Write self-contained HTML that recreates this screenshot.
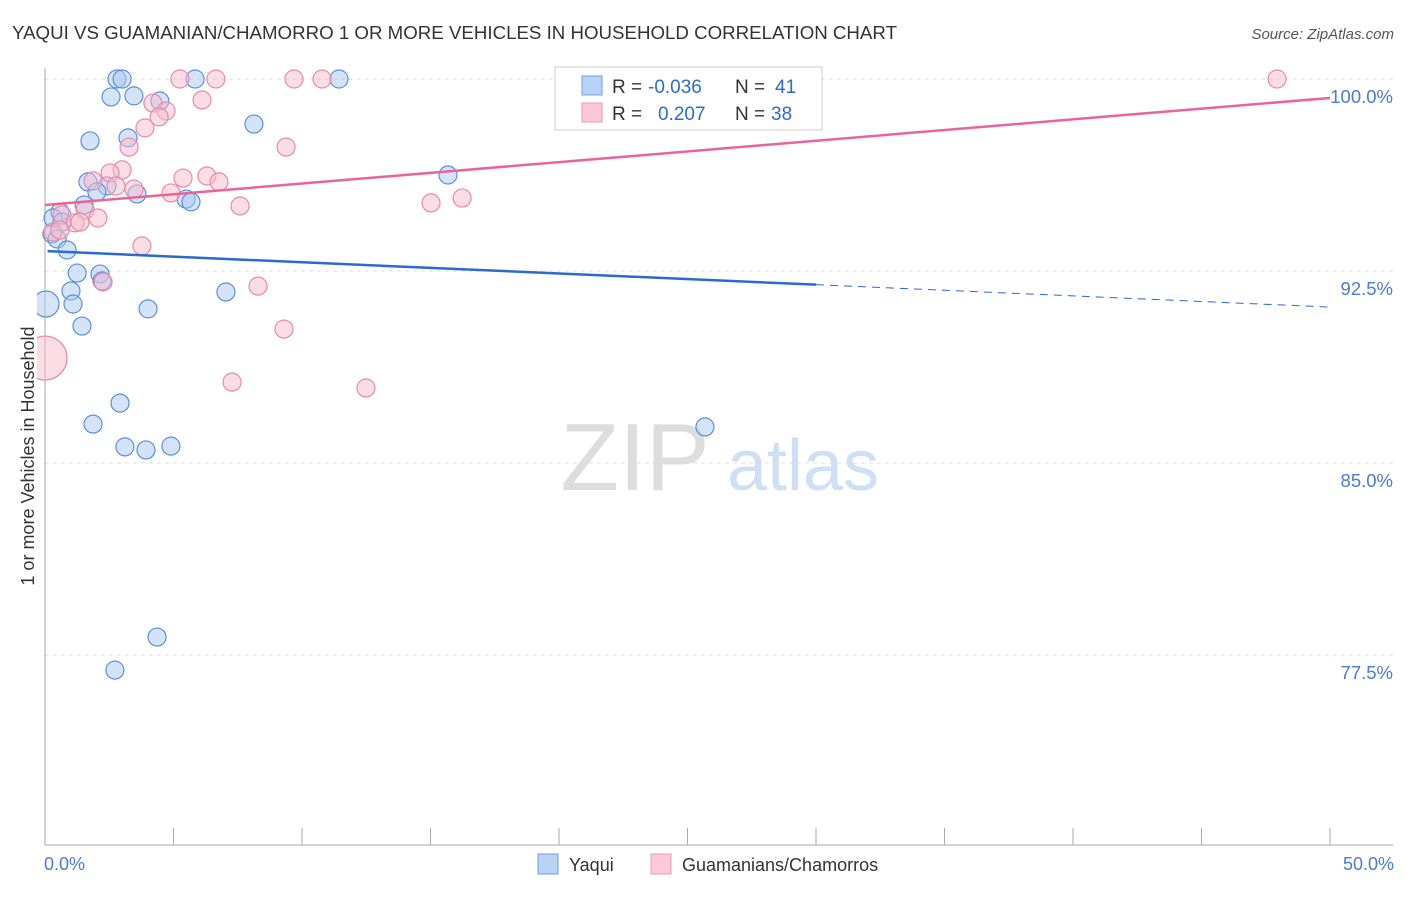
<!DOCTYPE html>
<html><head><meta charset="utf-8"><style>
body{margin:0;background:#fff;font-family:"Liberation Sans",sans-serif;}
svg text{font-family:"Liberation Sans",sans-serif;}
</style></head><body>
<svg width="1406" height="892" xmlns="http://www.w3.org/2000/svg" id="chart">
<defs><clipPath id="plotclip"><rect x="37" y="60" width="1370" height="786"/></clipPath></defs>
<text x="12" y="39" font-size="18" fill="#333" textLength="885" lengthAdjust="spacingAndGlyphs">YAQUI VS GUAMANIAN/CHAMORRO 1 OR MORE VEHICLES IN HOUSEHOLD CORRELATION CHART</text>
<text x="1394" y="39" font-size="15" fill="#555" text-anchor="end" font-style="italic">Source: ZipAtlas.com</text>
<text transform="translate(34,456) rotate(-90)" font-size="18" fill="#333" text-anchor="middle">1 or more Vehicles in Household</text>
<g>
<text x="635" y="490" font-size="96" fill="#ddd" text-anchor="middle" font-family="Liberation Serif">ZIP</text>
<text x="803" y="490" font-size="72" fill="#cfe0f5" text-anchor="middle">atlas</text>
</g>
<g id="grid"></g><g id="ticks"></g><g id="pts" clip-path="url(#plotclip)"></g><g id="lines"></g>
<g>
<rect x="555" y="67" width="267" height="63" fill="#fff" stroke="#ccc"/>
<rect x="582" y="76" width="20" height="19" fill="#b8d3f5" stroke="#6f9fe0"/>
<rect x="582" y="103" width="20" height="19" fill="#fbc9d7" stroke="#ec97b0"/>
<text x="612" y="93" font-size="19" fill="#333">R =</text>
<text x="648" y="93" font-size="19" fill="#2b6ad1">-0.036</text>
<text x="735" y="93" font-size="19" fill="#333">N =</text>
<text x="775" y="93" font-size="19" fill="#2b6ad1">41</text>
<text x="612" y="120" font-size="19" fill="#333">R =</text>
<text x="658" y="120" font-size="19" fill="#2b6ad1">0.207</text>
<text x="735" y="120" font-size="19" fill="#333">N =</text>
<text x="771" y="120" font-size="19" fill="#2b6ad1">38</text>
</g>
<g>
<rect x="538" y="854" width="20" height="20" fill="#b8d3f5" stroke="#6f9fe0"/>
<text x="569" y="871" font-size="18" fill="#333">Yaqui</text>
<rect x="651" y="854" width="20" height="20" fill="#fbc9d7" stroke="#ec97b0"/>
<text x="682" y="871" font-size="18" fill="#333">Guamanians/Chamorros</text>
</g>
<text x="44" y="870" font-size="18" fill="#4a7bd0">0.0%</text>
<text x="1394" y="870" font-size="18" fill="#4a7bd0" text-anchor="end">50.0%</text>
</svg>
<script>
const yTicks=[100,92.5,85,77.5];
const yTickLabels=["100.0%","92.5%","85.0%","77.5%"];
const blueX=[2.8,3.0,5.84,11.44,2.57,3.46,4.47,3.23,1.75,8.13,15.68,1.67,2.41,2.02,3.58,5.49,5.68,1.52,0.58,0.31,0.66,0.27,0.47,0.86,1.25,2.14,2.22,1.01,7.04,0.04,1.09,4.01,1.44,2.92,1.87,3.11,3.93,4.9,25.68,4.36,2.72];
const blueY=[100,100,100,100,99.3,99.34,99.14,97.7,97.58,98.24,96.25,95.98,95.82,95.59,95.51,95.31,95.2,95.08,94.8,94.57,94.41,93.95,93.75,93.32,92.42,92.38,92.11,91.72,91.68,91.21,91.21,91.02,90.35,87.34,86.52,85.63,85.51,85.66,86.41,78.2,76.91];
const pinkX=[5.25,6.65,9.69,10.78,47.94,6.11,4.2,4.71,4.44,3.89,3.27,9.38,3.0,2.53,1.87,2.76,3.46,5.37,6.3,6.77,4.9,7.59,15.02,16.23,1.56,0.66,1.17,2.06,1.36,0.31,0.58,3.77,2.26,8.29,9.3,7.28,12.49,0];
const pinkY=[100,100,100,100,100,99.18,99.06,98.75,98.52,98.09,97.34,97.34,96.45,96.33,96.02,95.82,95.7,96.13,96.21,95.98,95.55,95.04,95.16,95.35,94.88,94.69,94.38,94.57,94.41,94.02,94.1,93.48,92.07,91.91,90.23,88.16,87.93,89.1];
const blueTrend=[93.28,91.09];
const pinkTrend=[95.08,99.26];
const X=v=>45+v*25.7, Y=v=>79+(100-v)*25.6;
const NS="http://www.w3.org/2000/svg";
function mk(t,a,p){const e=document.createElementNS(NS,t);for(const k in a)e.setAttribute(k,a[k]);p.appendChild(e);return e;}
const grid=document.getElementById('grid'),ticks=document.getElementById('ticks'),pts=document.getElementById('pts'),lines=document.getElementById('lines');
yTicks.forEach((t,i)=>{
 const l=mk('line',{x1:45,x2:1393,y1:Y(t),y2:Y(t),stroke:'#ddd','stroke-dasharray':'4,4'},grid);
 
 
 const tx=mk('text',{x:1393,y:Y(t)+24,'font-size':18.5,fill:'#4a7bd0','text-anchor':'end'},grid);
 tx.textContent=yTickLabels[i];
 
 
});
const ax=mk('line',{x1:45,x2:45,y1:68,y2:845,stroke:'#aaa'},ticks);


const bx=mk('line',{x1:45,x2:1393,y1:845,y2:845,stroke:'#aaa'},ticks);


for(let i=0;i<=10;i++){const t=mk('line',{x1:X(i*5),x2:X(i*5),y1:828,y2:845,stroke:'#aaa'},ticks);
 
 }
function dots(xs,ys,fill,stroke,name){xs.forEach((x,i)=>{
 let r=9; if(name==='yaqui-point'&&x<0.1) r=13; if(name==='guamanian-point'&&x===0) r=22;
 const c=mk('circle',{cx:X(x),cy:Y(ys[i]),r:r,fill:fill,'fill-opacity':0.5,stroke:stroke,'stroke-width':1.2},pts);
 
 });}
dots(blueX,blueY,'#a9c8f2','#5b8fdc','yaqui-point');
dots(pinkX,pinkY,'#f8bccd','#e88aa7','guamanian-point');
const bl=v=>blueTrend[0]+(blueTrend[1]-blueTrend[0])*v/50, pl=v=>pinkTrend[0]+(pinkTrend[1]-pinkTrend[0])*v/50;
let e=mk('line',{x1:X(0.1),y1:Y(bl(0.1)),x2:X(30),y2:Y(bl(30)),stroke:'#2b6ad1','stroke-width':2.5},lines);


e=mk('line',{x1:X(30),y1:Y(bl(30)),x2:X(50),y2:Y(bl(50)),stroke:'#2b6ad1','stroke-width':1,'stroke-dasharray':'8,6'},lines);


e=mk('line',{x1:X(0),y1:Y(pl(0)),x2:X(50),y2:Y(pl(50)),stroke:'#e8659a','stroke-width':2.5},lines);


</script>
</body></html>
